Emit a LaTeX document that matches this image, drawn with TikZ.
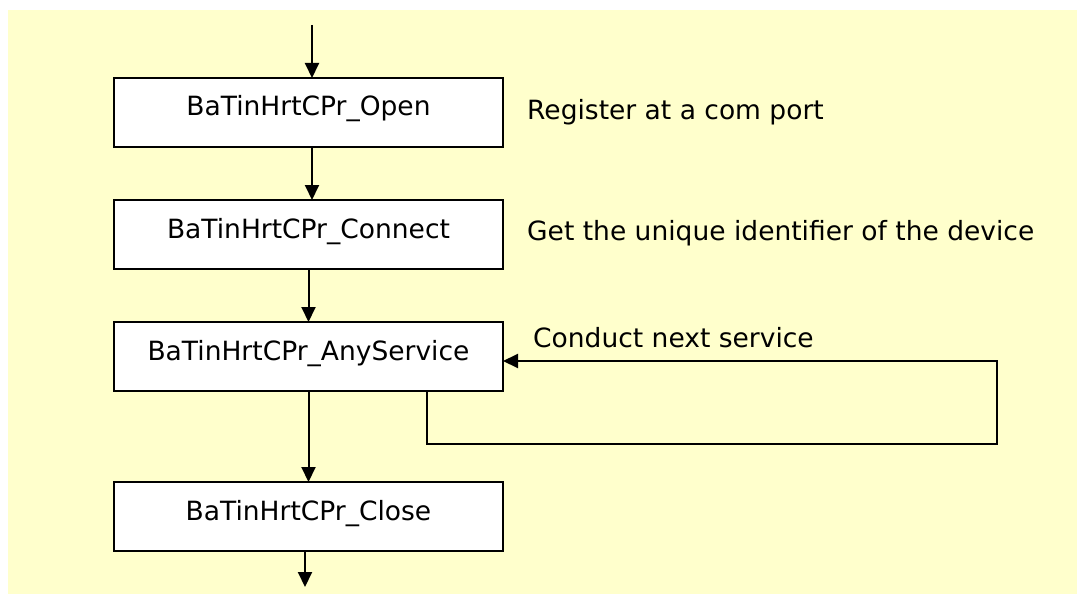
\documentclass[tikz,border=0pt]{standalone}
\usepackage{fontspec}
\setmainfont{DejaVu Sans}
\usepackage{xcolor}
\usetikzlibrary{arrows.meta}
\definecolor{paleyellow}{HTML}{FFFFCC}

\begin{document}
\begin{tikzpicture}[x = 1pt, y = -1pt,
    every node/.style = {font = \fontsize{26.5}{30}\selectfont},
    callbox/.style = {draw, fill = white, line width = 2pt, outer sep = 0pt,
      minimum width = 389pt, inner xsep = 0pt, inner ysep = 0pt,
      text height = 38pt, text depth = 31pt, anchor = north},
    note/.style = {anchor = base west, inner sep = 0pt},
    flow/.style = {line width = 2pt, -{Triangle[width = 14pt, length = 15pt]}}]

    \useasboundingbox (0,0) rectangle (1077,594);
    \fill[paleyellow] (8,10) rectangle (1077,594);

    % Call sequence
    \node[callbox] (open) at (308.5,78) {BaTinHrtCPr\_Open};
    \node[callbox] (connect) at (308.5,200) {BaTinHrtCPr\_Connect};
    \node[callbox] (any) at (308.5,322) {BaTinHrtCPr\_AnyService};
    \node[callbox] (close) at (308.5,482) {BaTinHrtCPr\_Close};

    % Comments
    \node[note] (register) at (527,119) {Register at a com port};
    \node[note] (uid) at (527,240) {Get the unique identifier of the device};
    \node[note] (next) at (533,347) {Conduct next service};

    \coordinate (start) at (312,25);
    \coordinate (finish) at (305,587);
    \coordinate (back) at (997,444);

    \draw[flow] (start) -- (start |- open.north);
    \draw[flow] ([xshift = 3.5pt]open.south) -- ([xshift = 3.5pt]connect.north);
    \draw[flow] (connect.south) -- (any.north);
    \draw[flow] (any.south) -- (close.north);
    \draw[flow] (finish |- close.south) -- (finish);

    % Loop back
    \draw[flow] ([xshift = 118.5pt]any.south) |- (back) |- ([yshift = -4.5pt]any.east);

\end{tikzpicture}
\end{document}
